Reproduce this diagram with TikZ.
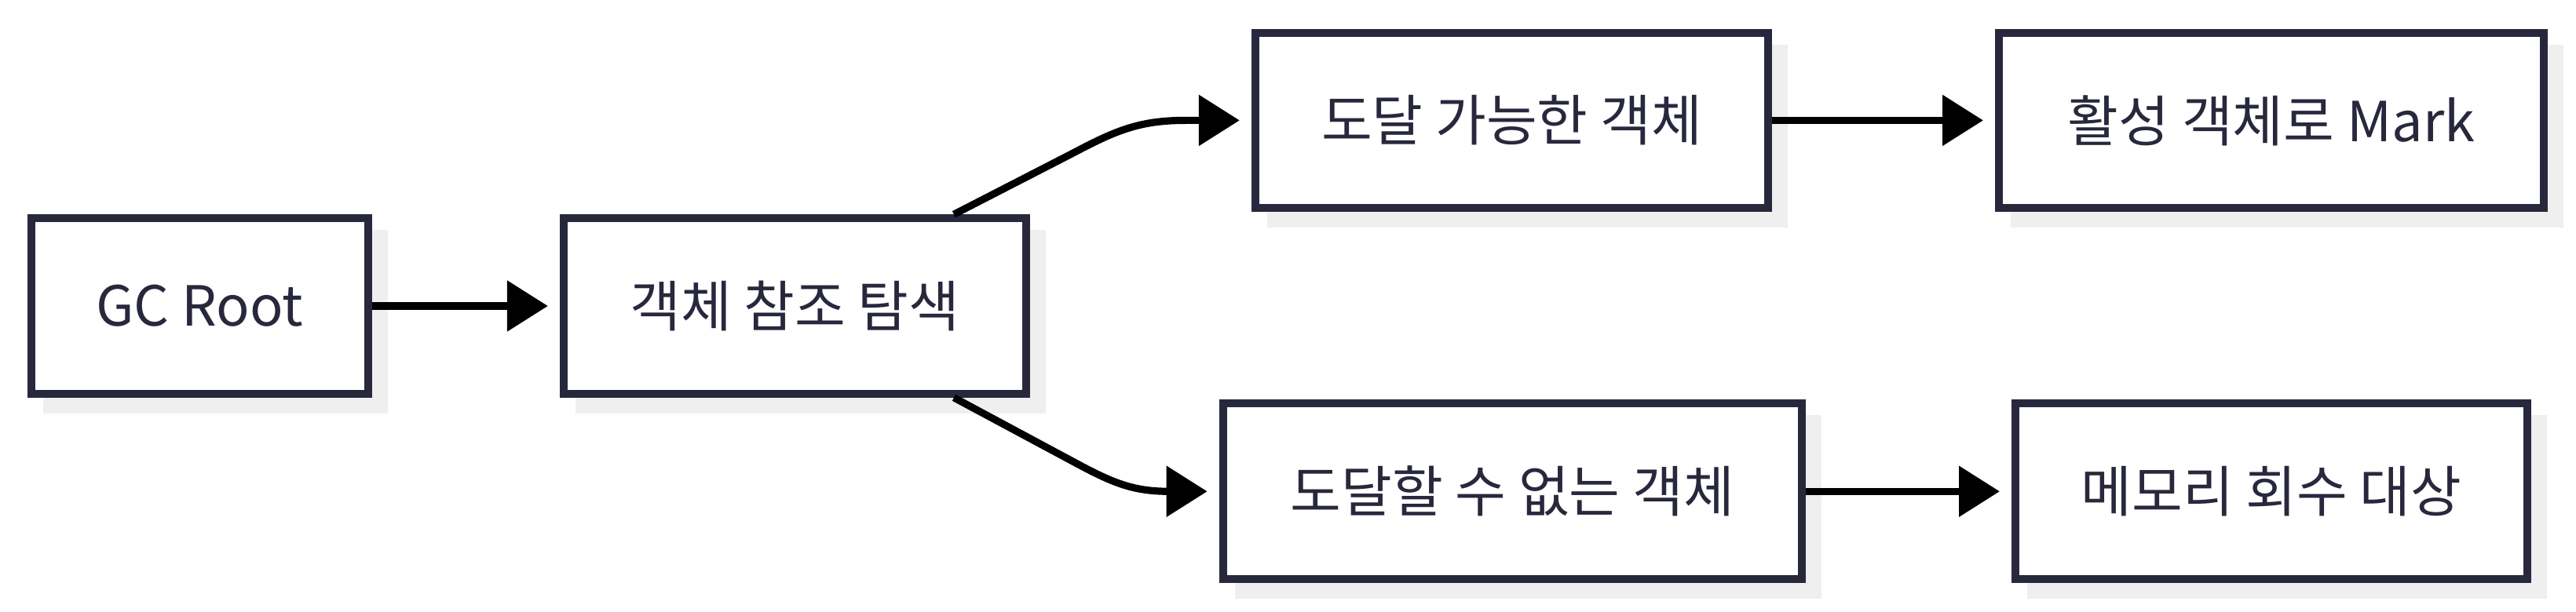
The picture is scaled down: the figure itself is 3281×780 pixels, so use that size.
\documentclass[tikz,border=0pt]{standalone}
\usepackage{fontspec}
\setmainfont{Noto Sans CJK KR}
\usetikzlibrary{arrows.meta,shadows}
\definecolor{boxline}{HTML}{28283D}
\definecolor{shade}{HTML}{EFEFEF}
\begin{document}
\begin{tikzpicture}[x=0.25pt,y=-0.25pt,
  box/.style={draw=boxline, line width=2.5pt, fill=white, text=boxline,
    font=\fontsize{17.6}{20}\selectfont, minimum height=55.9pt, inner sep=0pt,
    general shadow={fill=shade, draw=shade, line width=2.5pt, shadow xshift=5pt, shadow yshift=-5pt}},
  arr/.style={draw=black, line width=2.3pt, -{Triangle[length=13pt,width=15.75pt]}, shorten >=3.75pt}]
\useasboundingbox (0,0) rectangle (3281,780);
\node[box, minimum width=107.1pt] (b1) at (254.3,390) {GC Root};
\node[box, minimum width=147.2pt] (b2) at (1012.3,390) {객체 참조 탐색};
\node[box, minimum width=163.3pt] (b3) at (1925.5,153.4) {도달 가능한 객체};
\node[box, minimum width=173.5pt] (b4) at (2893,153.4) {활성 객체로 Mark};
\node[box, minimum width=184.3pt] (b5) at (1926.3,626.3) {도달할 수 없는 객체};
\node[box, minimum width=163pt] (b6) at (2893,626.3) {메모리 회수 대상};
\coordinate (s1) at (1215,0);
\coordinate (u1) at (1365,196);
\coordinate (u2) at (1510,153.4);
\coordinate (l1) at (1370,590);
\coordinate (l2) at (1490,626.3);
\draw[arr] (b1) -- (b2);
\draw[arr] (b2.north -| s1) -- (u1) .. controls (1420,167) and (1450,153.4) .. (u2) -- (b3.west);
\draw[arr] (b2.south -| s1) -- (l1) .. controls (1420,617) and (1445,626.3) .. (l2) -- (b5.west);
\draw[arr] (b3) -- (b4);
\draw[arr] (b5) -- (b6);
\end{tikzpicture}
\end{document}
